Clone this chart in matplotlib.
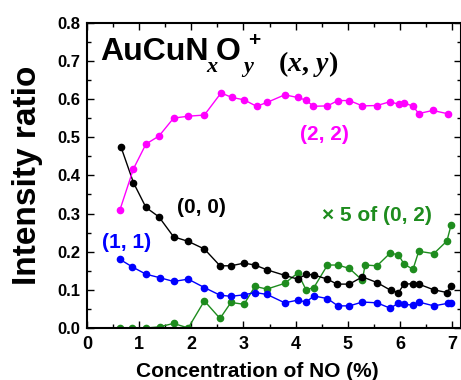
# Intensity ratio of AuCuNxOy+ ions vs NO concentration
import matplotlib
matplotlib.use("Agg")
import matplotlib.pyplot as plt
from matplotlib.ticker import MultipleLocator

plt.rcParams['font.family'] = 'Liberation Sans'
plt.rcParams['font.weight'] = 'bold'
plt.rcParams['mathtext.fontset'] = 'custom'
plt.rcParams['mathtext.rm'] = 'Liberation Serif'
plt.rcParams['mathtext.it'] = 'Liberation Serif:italic'
plt.rcParams['mathtext.bf'] = 'Liberation Sans:bold'

# (2, 2) series - magenta
x_22 = [0.63, 0.89, 1.13, 1.38, 1.66, 1.94, 2.25, 2.57, 2.78, 3.01, 3.25, 3.45,
        3.79, 4.04, 4.20, 4.34, 4.61, 4.81, 5.03, 5.28, 5.56, 5.81, 5.98, 6.08,
        6.25, 6.36, 6.63, 6.93]
y_22 = [0.309, 0.417, 0.482, 0.503, 0.550, 0.555, 0.558, 0.616, 0.604, 0.598,
        0.581, 0.591, 0.611, 0.604, 0.597, 0.581, 0.582, 0.596, 0.596, 0.582,
        0.583, 0.593, 0.586, 0.590, 0.581, 0.562, 0.570, 0.561]

# (0, 0) series - black
x_00 = [0.65, 0.89, 1.13, 1.38, 1.66, 1.94, 2.25, 2.55, 2.76, 3.01, 3.22, 3.46,
        3.79, 4.04, 4.20, 4.35, 4.61, 4.79, 5.03, 5.28, 5.56, 5.82, 5.97, 6.08,
        6.25, 6.36, 6.65, 6.90, 6.98]
y_00 = [0.475, 0.381, 0.316, 0.291, 0.239, 0.227, 0.207, 0.163, 0.163, 0.170,
        0.165, 0.152, 0.138, 0.128, 0.141, 0.139, 0.128, 0.115, 0.115, 0.134,
        0.119, 0.099, 0.093, 0.115, 0.116, 0.115, 0.100, 0.093, 0.110]

# (1, 1) series - blue
x_11 = [0.63, 0.87, 1.13, 1.39, 1.66, 1.94, 2.25, 2.55, 2.76, 3.01, 3.22, 3.45,
        3.79, 4.04, 4.20, 4.35, 4.61, 4.81, 5.03, 5.28, 5.56, 5.81, 5.97, 6.08,
        6.25, 6.36, 6.65, 6.93, 6.98]
y_11 = [0.180, 0.160, 0.141, 0.132, 0.122, 0.128, 0.106, 0.086, 0.083, 0.087,
        0.093, 0.088, 0.066, 0.073, 0.068, 0.084, 0.077, 0.058, 0.058, 0.068,
        0.066, 0.052, 0.065, 0.062, 0.060, 0.068, 0.058, 0.065, 0.065]

# x5 of (0, 2) series - green
x_02 = [0.63, 0.87, 1.13, 1.39, 1.66, 1.94, 2.25, 2.55, 2.76, 3.01, 3.22, 3.45,
        3.79, 4.04, 4.20, 4.35, 4.61, 4.81, 5.03, 5.28, 5.33, 5.56, 5.81, 5.97,
        6.08, 6.25, 6.36, 6.65, 6.90, 6.98]
y_02 = [0.000, 0.000, 0.000, 0.003, 0.012, 0.000, 0.071, 0.025, 0.067, 0.062,
        0.109, 0.102, 0.117, 0.144, 0.100, 0.106, 0.165, 0.165, 0.156, 0.125,
        0.165, 0.163, 0.196, 0.192, 0.167, 0.154, 0.201, 0.195, 0.228, 0.270]

c_mag = '#ff00ff'
c_blk = 'black'
c_blu = '#0000ff'
c_grn = '#1e8c1e'

fig = plt.figure(figsize=(4.61, 3.80), dpi=100)
ax = fig.add_axes([87 / 461, 1 - 328 / 380, 1 - 87 / 461, (328 - 22.7) / 380])

kw = dict(marker='o', markersize=4.5, linewidth=1.0)
ax.plot(x_02, y_02, color=c_grn, **kw)
ax.plot(x_11, y_11, color=c_blu, **kw)
ax.plot(x_00, y_00, color=c_blk, **kw)
ax.plot(x_22, y_22, color=c_mag, **kw)

ax.set_xlim(0, 7.17)
ax.set_ylim(0, 0.8)
ax.xaxis.set_major_locator(MultipleLocator(1))
ax.xaxis.set_minor_locator(MultipleLocator(0.5))
ax.yaxis.set_major_locator(MultipleLocator(0.1))
ax.yaxis.set_minor_locator(MultipleLocator(0.05))
ax.set_yticklabels([f'{v:.1f}' for v in ax.get_yticks()])
ax.tick_params(which='both', direction='in', top=True, right=True, width=1.0)
ax.tick_params(which='major', length=5)
ax.tick_params(which='minor', length=3)
ax.tick_params(axis='x', labelsize=13, pad=6)
ax.tick_params(axis='y', labelsize=12, pad=5)
for s in ax.spines.values():
    s.set_linewidth(1.5)

# axis labels
fig.text(12 / 461, 1 - 175 / 380, 'Intensity ratio', rotation=90, fontsize=24,
         fontweight='bold', ha='left', va='center')
fig.text((87 + 459) / 2 / 461 - 0.035, 1 - 377 / 380, 'Concentration of NO (%)',
         fontsize=15, fontweight='bold', ha='center', va='baseline')

# ion formula, built from pieces so the sub/superscripts sit like the original
ax.text(0.25, 0.702, 'AuCuN', fontsize=23, fontweight='bold', ha='left', va='baseline')
ax.text(2.28, 0.672, r'$x$', fontsize=16, ha='left', va='baseline')
ax.text(2.46, 0.702, 'O', fontsize=23, fontweight='bold', ha='left', va='baseline')
ax.text(2.96, 0.672, r'$y$', fontsize=16, ha='left', va='baseline')
ax.text(3.08, 0.738, '+', fontsize=15, fontweight='bold', ha='left', va='baseline')
ax.text(3.66, 0.673, r'$(x,\,y)$', fontsize=20, ha='left', va='baseline')

# series labels
ax.text(4.56, 0.508, '(2, 2)', color=c_mag, fontsize=15, fontweight='bold',
        ha='center', va='center')
ax.text(2.2, 0.315, '(0, 0)', color=c_blk, fontsize=15, fontweight='bold',
        ha='center', va='center')
ax.text(0.76, 0.225, '(1, 1)', color=c_blu, fontsize=15, fontweight='bold',
        ha='center', va='center')
ax.text(5.55, 0.296, '\u00d7 5 of (0, 2)', color=c_grn, fontsize=15,
        fontweight='bold', ha='center', va='center')

fig.savefig('out.png', dpi=100)
